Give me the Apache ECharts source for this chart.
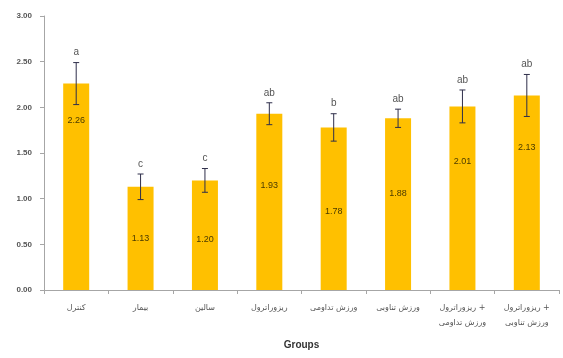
<!DOCTYPE html>
<html>
<head>
<meta charset="utf-8">
<style>
  html, body { margin: 0; padding: 0; background: #fff; }
  #chart { width: 563px; height: 358px; }
</style>
<script src="https://cdn.jsdelivr.net/npm/echarts@6/dist/echarts.min.js"></script>
</head>
<body>
<div id="chart"></div>
<script>
// Group names (x axis)
const groups = [
  'کنترل',
  'بیمار',
  'سالین',
  'ریزوراترول',
  'ورزش تداومی',
  'ورزش تناوبی',
  'ریزوراترول +\nورزش تداومی',
  'ریزوراترول +\nورزش تناوبی'
];
// Group means
const means = [2.26, 1.13, 1.20, 1.93, 1.78, 1.88, 2.01, 2.13];
// Standard deviations (error bar half-length)
const errors = [0.23, 0.14, 0.13, 0.12, 0.15, 0.10, 0.18, 0.23];
// Significance letters above each error bar
const letters = ['a', 'c', 'c', 'ab', 'b', 'ab', 'ab', 'ab'];
// Y axis tick values
const yTicks = [0, 0.5, 1.0, 1.5, 2.0, 2.5, 3.0];

// Vertical placement of the value label inside each bar (share of bar height from its top)
const valueLabelPlacement = ['18%', '50%', '54%', '41%', '52%', '44%', '30%', '27%'];

const chart = echarts.init(document.getElementById('chart'), null, { renderer: 'canvas' });

const barData = means.map((v, i) => ({
  value: v,
  label: { position: ['50%', valueLabelPlacement[i]] }
}));

const errData = means.map((v, i) => [i, v - errors[i], v + errors[i], letters[i]]);

chart.setOption({
  animation: false,
  grid: { left: 44, right: 4, top: 16, bottom: 68 },
  xAxis: {
    type: 'category',
    data: groups,
    name: 'Groups',
    nameLocation: 'middle',
    nameGap: 50,
    nameTextStyle: { fontFamily: 'Liberation Sans', fontWeight: 'bold', fontSize: 10, color: '#333' },
    axisLine: { lineStyle: { color: '#a6a6a6', width: 1 } },
    axisTick: { show: true, alignWithLabel: false, length: 4, lineStyle: { color: '#a6a6a6' } },
    axisLabel: {
      interval: 0,
      margin: 10,
      fontFamily: 'DejaVu Sans',
      fontSize: 8,
      lineHeight: 15,
      color: '#555'
    }
  },
  yAxis: {
    type: 'value',
    min: 0,
    max: 3,
    interval: 0.5,
    splitLine: { show: false },
    axisLine: { show: true, lineStyle: { color: '#a6a6a6', width: 1 } },
    axisTick: { show: true, length: 4, lineStyle: { color: '#a6a6a6' } },
    axisLabel: {
      margin: 12,
      fontFamily: 'Liberation Sans',
      fontWeight: 'bold',
      fontSize: 8,
      color: '#555',
      formatter: v => yTicks.includes(v) ? v.toFixed(2) : ''
    }
  },
  series: [
    {
      type: 'bar',
      data: barData,
      barWidth: 26,
      itemStyle: { color: '#FFC000' },
      label: {
        show: true,
        align: 'center',
        verticalAlign: 'middle',
        formatter: p => p.value.toFixed(2),
        fontFamily: 'Liberation Sans',
        fontSize: 9,
        color: '#4a3a00'
      },
      z: 2
    },
    {
      type: 'custom',
      data: errData,
      z: 5,
      renderItem: function (params, api) {
        const x = api.value(0);
        const lo = api.coord([x, api.value(1)]);
        const hi = api.coord([x, api.value(2)]);
        const cap = 3;
        const style = { stroke: '#2e2e4a', lineWidth: 1 };
        return {
          type: 'group',
          children: [
            { type: 'line', shape: { x1: hi[0], y1: hi[1], x2: lo[0], y2: lo[1] }, style },
            { type: 'line', shape: { x1: hi[0] - cap, y1: hi[1], x2: hi[0] + cap, y2: hi[1] }, style },
            { type: 'line', shape: { x1: lo[0] - cap, y1: lo[1], x2: lo[0] + cap, y2: lo[1] }, style },
            {
              type: 'text',
              style: {
                text: api.value(3),
                x: hi[0],
                y: hi[1] - 5,
                align: 'center',
                verticalAlign: 'bottom',
                fontFamily: 'Liberation Sans',
                fontSize: 10,
                fill: '#555'
              }
            }
          ]
        };
      }
    }
  ]
});
</script>
</body>
</html>
